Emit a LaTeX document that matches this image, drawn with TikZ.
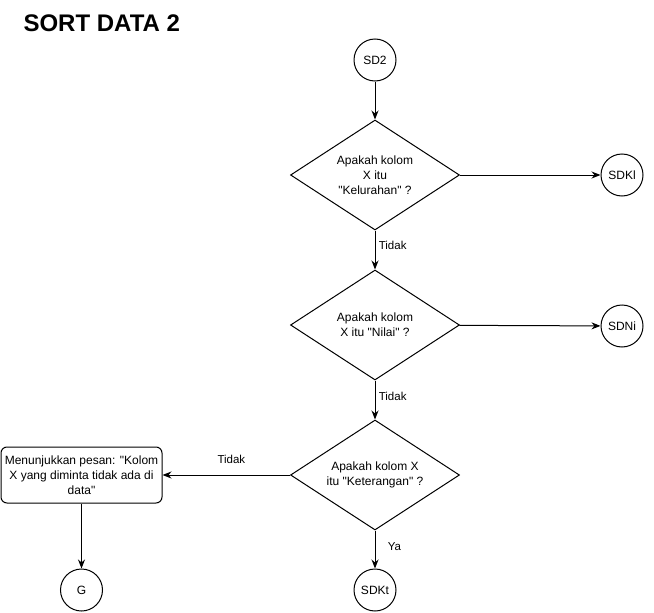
\documentclass[tikz,border=0pt]{standalone}
\usepackage{fontspec}
\setmainfont{Liberation Sans}
\usetikzlibrary{shapes.geometric,arrows.meta}
\newcommand{\dq}{\textquotedbl}
\begin{document}
\begin{tikzpicture}[x=1pt,y=-1pt,
		every node/.style={font=\fontsize{12}{15}\selectfont},
		term/.style={draw,circle,minimum size=42pt,inner sep=0pt,line width=1pt},
		check/.style={draw,diamond,aspect=1.54,minimum width=169pt,minimum height=110pt,inner sep=0pt,align=center,line width=1pt},
		msgbox/.style={draw,rounded corners=6pt,minimum width=161pt,minimum height=56pt,inner sep=0pt,align=center,line width=1pt},
		flow/.style={line width=1pt,-{Stealth[length=9pt,width=7pt]}},
		lbl/.style={font=\fontsize{11.5}{14}\selectfont}]
				\useasboundingbox (0,0) rectangle (654,613);
				\node[font=\bfseries\fontsize{24}{28}\selectfont,anchor=base west] (title) at (20,31) {SORT DATA 2};
				\node[term] (sd2) at (375,60) {SD2};
				\node[check] (q1) at (375,175) {Apakah kolom\\X itu\\\dq Kelurahan\dq{} ?};
				\node[term] (sdkl) at (622,175) {SDKl};
				\node[check] (q2) at (375,325) {Apakah kolom\\X itu \dq Nilai\dq{} ?};
				\node[term] (sdni) at (622,326) {SDNi};
				\node[check] (q3) at (375,475) {Apakah kolom X\\itu \dq Keterangan\dq{} ?};
				\node[msgbox] (msg) at (81.5,475) {Menunjukkan pesan: \dq Kolom\\X yang diminta tidak ada di\\data\dq};
				\node[term] (g) at (81.5,590) {G};
				\node[term] (sdkt) at (375,590) {SDKt};
				\draw[flow] (sd2) -- (q1);
				\draw[flow] (q1) -- (sdkl);
				\draw[flow] (q1) -- node[lbl,right,pos=0.38]{Tidak} (q2);
				\draw[flow] (q2) -- (sdni);
				\draw[flow] (q2) -- node[lbl,right,pos=0.4]{Tidak} (q3);
				\draw[flow] (q3) -- node[lbl,above=8pt,pos=0.46]{Tidak} (msg);
				\draw[flow] (q3) -- node[lbl,right=9pt,pos=0.42]{Ya} (sdkt);
				\draw[flow] (msg) -- (g);
			\end{tikzpicture}
\end{document}
